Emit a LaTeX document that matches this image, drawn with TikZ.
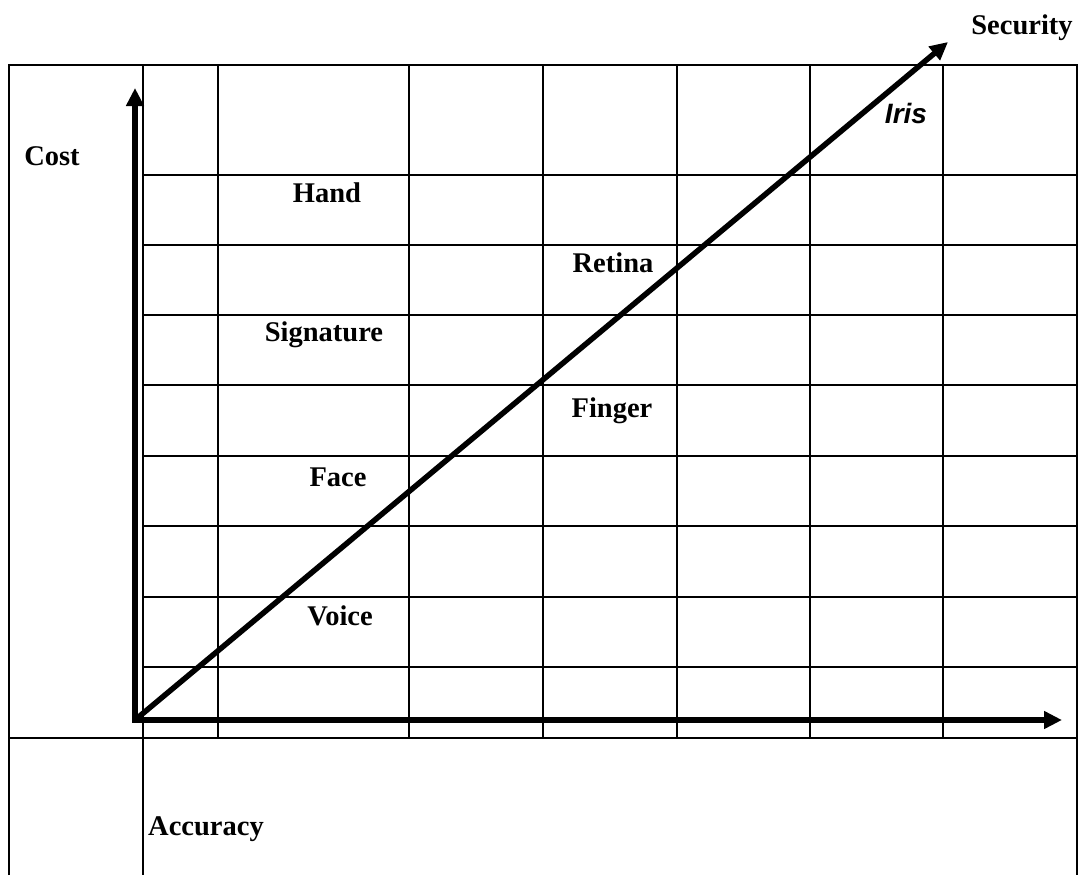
\documentclass[tikz,border=0pt]{standalone}
\usepackage{fontspec}
\setmainfont{Liberation Serif}
\newfontfamily\irisfont{Liberation Sans}
\usetikzlibrary{arrows.meta}
\tikzset{
  gridline/.style={line width=2.2pt, black},
  axisline/.style={line width=5.5pt, black, -{Triangle[length=18pt,width=17pt]}},
  lbl/.style={anchor=base, inner sep=0pt, font=\fontsize{28.5}{34}\selectfont\bfseries},
  irislbl/.style={anchor=base, inner sep=0pt, font=\fontsize{28}{34}\selectfont\irisfont\bfseries\itshape}
}
\begin{document}
\begin{tikzpicture}[x=1pt,y=-1pt]
\useasboundingbox (0,0) rectangle (1086,875);
% outer frame and long lines
\draw[gridline] (9,875) -- (9,65) -- (1077,65) -- (1077,875);
\draw[gridline] (143,65) -- (143,875);
\draw[gridline] (9,738) -- (1077,738);
\foreach \x in {218,409,543,677,810,943} {
  \draw[gridline] (\x,65) -- (\x,738);
}
\foreach \y in {175,245,315,385,456,526,597,667} {
  \draw[gridline] (143,\y) -- (1077,\y);
}
% axes
\coordinate (O) at (135,720);
\coordinate (costtip) at (135,88);
\coordinate (acctip) at (1062,720);
\coordinate (sectip) at (948,42);
\draw[axisline] (O) -- (costtip);
\draw[axisline] (O) -- (acctip);
\draw[axisline] (O) -- (sectip);
\fill (132.25,717.25) rectangle (137.75,722.75);
% labels
\node[lbl] (cost) at (52,165) {Cost};
\node[lbl] (security) at (1022,35) {Security};
\node[irislbl] (iris) at (906,123) {Iris};
\node[lbl] (hand) at (327,202) {Hand};
\node[lbl] (retina) at (613,272) {Retina};
\node[lbl] (signature) at (324,341) {Signature};
\node[lbl] (finger) at (612,417) {Finger};
\node[lbl] (face) at (338,486) {Face};
\node[lbl] (voice) at (340,625) {Voice};
\node[lbl] (accuracy) at (206,835) {Accuracy};
\end{tikzpicture}
\end{document}
